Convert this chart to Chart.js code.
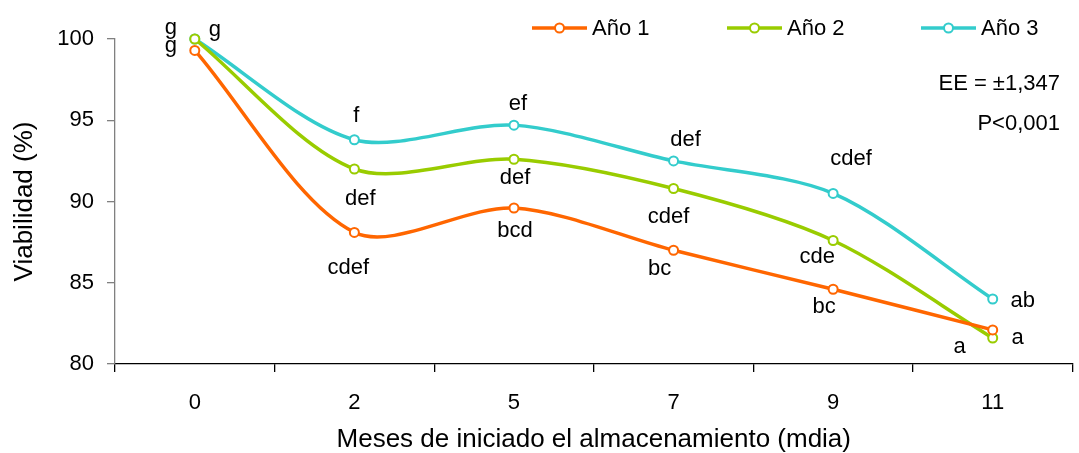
<!DOCTYPE html>
<html>
<head>
<meta charset="utf-8">
<script src="https://cdn.jsdelivr.net/npm/chart.js@4/dist/chart.umd.min.js"></script>
<style>
  html, body { margin: 0; padding: 0; background: #fff; }
  #wrap { width: 1079px; height: 453px; position: relative; }
</style>
</head>
<body>
<div id="wrap"><canvas id="c"></canvas></div>
<script>
// Meses de almacenamiento (categorías del eje X)
const meses = ['0', '2', '5', '7', '9', '11'];

// Viabilidad (%) por año de cosecha
const ano1 = [99.3, 88.1, 89.6, 87.0, 84.6, 82.1];
const ano2 = [100.0, 92.0, 92.6, 90.8, 87.6, 81.6];
const ano3 = [100.0, 93.8, 94.7, 92.5, 90.5, 84.0];

// Letras de significación (Tukey) de cada punto
const letras1 = ['g', 'cdef', 'bcd', 'bc', 'bc', 'a'];
const letras2 = ['g', 'def', 'def', 'cdef', 'cde', 'a'];
const letras3 = ['g', 'f', 'ef', 'def', 'cdef', 'ab'];

// Ticks del eje Y
const yMin = 80, yMax = 100, yPaso = 5;

const nombres = ['Año 1', 'Año 2', 'Año 3'];
const colores = ['#FF6600', '#99CC00', '#33CCCC'];
const FONT = '"Liberation Sans", Arial, sans-serif';

// Desplazamiento (px) de cada letra respecto a su punto: [dx, dy a la línea base]
const desplazamientos = [
  [[-24, 2], [-6, 42], [1, 29], [-14, 25], [-9, 24], [-33, 23]],
  [[20, -3], [6, 36], [1, 25], [-5, 34], [-16, 22], [25, 6]],
  [[-24, -5], [2, -18], [4, -15], [12, -15], [18, -28], [30, 8]]
];
const letras = [letras1, letras2, letras3];

// Letras junto a cada punto y leyenda con línea + marcador
const anotaciones = {
  id: 'anotaciones',
  afterDatasetsDraw(chart) {
    const ctx = chart.ctx;
    const x = chart.scales.x, y = chart.scales.y;
    ctx.save();
    ctx.font = '22px ' + FONT;
    ctx.fillStyle = '#000';
    ctx.textAlign = 'center';
    ctx.textBaseline = 'alphabetic';
    chart.data.datasets.forEach((ds, s) => {
      ds.data.forEach((v, i) => {
        const px = x.getPixelForValue(i);
        const py = y.getPixelForValue(v);
        const d = desplazamientos[s][i];
        ctx.fillText(letras[s][i], px + d[0], py + d[1]);
      });
    });

    // Estadísticos
    ctx.textAlign = 'right';
    ctx.fillText('EE = \u00b11,347', 1060, 90);
    ctx.fillText('P<0,001', 1060, 130);

    // Leyenda
    const inicios = [532, 727, 921];
    chart.data.datasets.forEach((ds, s) => {
      const x0 = inicios[s], ly = 28;
      ctx.strokeStyle = ds.borderColor;
      ctx.lineWidth = 3.5;
      ctx.beginPath();
      ctx.moveTo(x0, ly);
      ctx.lineTo(x0 + 55, ly);
      ctx.stroke();
      ctx.beginPath();
      ctx.arc(x0 + 27.5, ly, 4.5, 0, Math.PI * 2);
      ctx.fillStyle = '#fff';
      ctx.fill();
      ctx.lineWidth = 2;
      ctx.stroke();
      ctx.fillStyle = '#000';
      ctx.textAlign = 'left';
      ctx.fillText(ds.label, x0 + 60, 34.5);
    });
    ctx.restore();
  }
};

const series = [ano1, ano2, ano3];

new Chart(document.getElementById('c'), {
  type: 'line',
  data: {
    labels: meses,
    datasets: series.map((d, s) => ({
      label: nombres[s],
      data: d,
      borderColor: colores[s],
      backgroundColor: '#fff',
      borderWidth: 3.5,
      tension: 0.3,
      pointRadius: 4.5,
      pointBorderWidth: 2,
      pointBackgroundColor: '#fff',
      pointBorderColor: colores[s],
      clip: false
    }))
  },
  options: {
    responsive: true,
    maintainAspectRatio: false,
    animation: false,
    devicePixelRatio: 1,
    layout: { padding: { top: 39, right: 2, bottom: 0, left: 0 } },
    plugins: {
      legend: { display: false },
      tooltip: { enabled: false }
    },
    scales: {
      x: {
        type: 'category',
        offset: true,
        grid: {
          offset: true,
          drawOnChartArea: false,
          drawTicks: true,
          tickLength: 8,
          color: '#000',
          tickColor: '#000',
          lineWidth: 1.3
        },
        border: { display: true, color: '#000', width: 1.3 },
        ticks: {
          color: '#000',
          font: { family: FONT, size: 22 },
          padding: 18,
          maxRotation: 0
        },
        title: {
          display: true,
          text: 'Meses de iniciado el almacenamiento (mdia)',
          color: '#000',
          font: { family: FONT, size: 26 },
          padding: { top: 0, bottom: -2 }
        },
        afterFit(scale) { scale.height = 89; }
      },
      y: {
        min: yMin,
        max: yMax,
        ticks: {
          stepSize: yPaso,
          color: '#000',
          font: { family: FONT, size: 22 },
          padding: 13
        },
        grid: {
          drawOnChartArea: false,
          drawTicks: true,
          tickLength: 8,
          color: '#808080',
          tickColor: '#808080',
          lineWidth: 1.3
        },
        border: { display: true, color: '#808080', width: 1.3 },
        title: {
          display: true,
          text: 'Viabilidad (%)',
          color: '#000',
          font: { family: FONT, size: 26 },
          padding: { top: 9, bottom: 0 }
        },
        afterFit(scale) { scale.width = 115; }
      }
    }
  },
  plugins: [anotaciones]
});
</script>
</body>
</html>
